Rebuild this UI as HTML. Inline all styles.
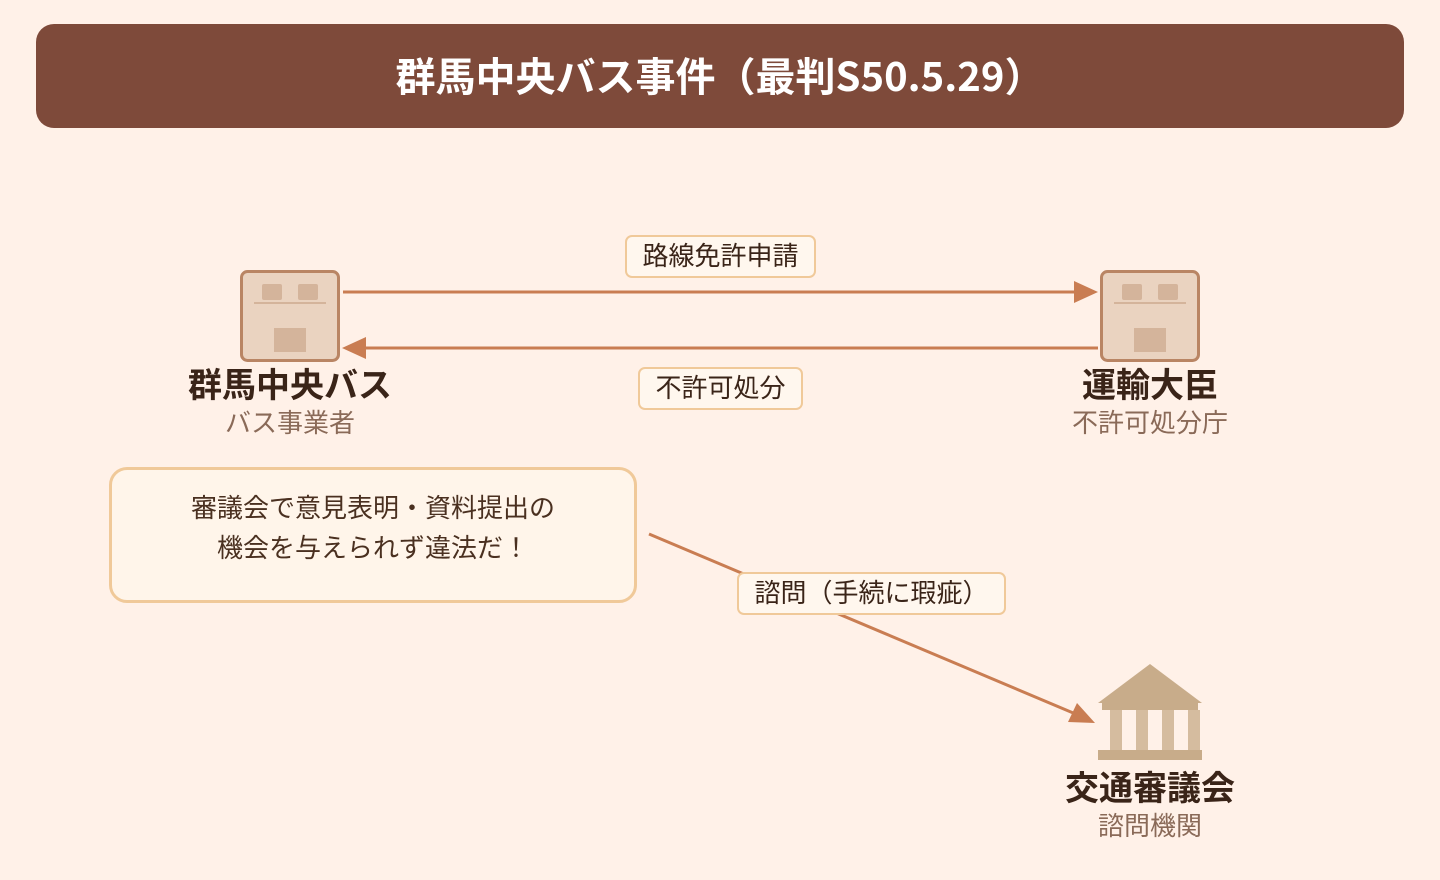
<!DOCTYPE html>
<html><head><meta charset="utf-8"><style>
body{margin:0;width:1440px;height:880px;background:#fff1e8;font-family:"Noto Sans CJK JP","Liberation Sans",sans-serif;position:relative;overflow:hidden}
.t{position:absolute;white-space:nowrap;text-align:center}
</style></head><body>
<div style="position:absolute;left:36px;top:24px;width:1368px;height:104px;background:#7e4a3a;border-radius:18px"></div>
<div class="t" style="left:36px;width:1368px;top:48px;font-size:40px;font-weight:bold;color:#fff;line-height:52px">群馬中央バス事件（最判S50.5.29）</div>
<svg width="1440" height="880" style="position:absolute;left:0;top:0">
<g>
<rect x="241.5" y="271.5" width="97" height="89" rx="6" fill="#ead3c0" stroke="#b98564" stroke-width="3"/>
<rect x="262" y="284" width="20" height="16" rx="2" fill="#d4b49b"/><rect x="298" y="284" width="20" height="16" rx="2" fill="#d4b49b"/>
<rect x="254" y="302" width="72" height="2" fill="#d4b49b"/><rect x="274" y="328" width="32" height="24" fill="#d4b49b"/>
</g>
<g transform="translate(860,0)">
<rect x="241.5" y="271.5" width="97" height="89" rx="6" fill="#ead3c0" stroke="#b98564" stroke-width="3"/>
<rect x="262" y="284" width="20" height="16" rx="2" fill="#d4b49b"/><rect x="298" y="284" width="20" height="16" rx="2" fill="#d4b49b"/>
<rect x="254" y="302" width="72" height="2" fill="#d4b49b"/><rect x="274" y="328" width="32" height="24" fill="#d4b49b"/>
</g>
<line x1="343" y1="292" x2="1078" y2="292" stroke="#c97d52" stroke-width="3"/>
<polygon points="1098,292 1074,281 1074,303" fill="#c97d52"/>
<line x1="1098" y1="348" x2="364" y2="348" stroke="#c97d52" stroke-width="3"/>
<polygon points="342,348 366,337 366,359" fill="#c97d52"/>
<line x1="649" y1="534" x2="1078" y2="715" stroke="#c97d52" stroke-width="3"/>
<polygon points="1095,723 1068,722 1077,703" fill="#c97d52"/>
<polygon points="1150,664 1098,703 1202,703" fill="#c8ac8a"/>
<rect x="1102" y="703" width="96" height="7" fill="#c8ac8a"/>
<rect x="1110" y="710" width="12" height="40" fill="#d5bc9f"/><rect x="1136" y="710" width="12" height="40" fill="#d5bc9f"/>
<rect x="1162" y="710" width="12" height="40" fill="#d5bc9f"/><rect x="1188" y="710" width="12" height="40" fill="#d5bc9f"/>
<rect x="1098" y="750" width="104" height="10" fill="#c8ac8a"/>
</svg>
<div style="position:absolute;left:625px;top:235px;width:187px;height:39px;background:#fff7ee;border:2px solid #f0c999;border-radius:7px"></div>
<div class="t" style="left:625px;width:191px;top:238px;font-size:26px;color:#3a2418;line-height:34px">路線免許申請</div>
<div style="position:absolute;left:638px;top:367px;width:161px;height:39px;background:#fff7ee;border:2px solid #f0c999;border-radius:7px"></div>
<div class="t" style="left:638px;width:165px;top:370px;font-size:26px;color:#3a2418;line-height:34px">不許可処分</div>
<div style="position:absolute;left:737px;top:572px;width:265px;height:39px;background:#fff7ee;border:2px solid #f0c999;border-radius:7px"></div>
<div class="t" style="left:737px;width:269px;top:575px;font-size:26px;color:#3a2418;line-height:34px">諮問（手続に瑕疵）</div>
<div style="position:absolute;left:109px;top:467px;width:522px;height:130px;background:#fff5ea;border:3px solid #f0c999;border-radius:18px"></div>
<div class="t" style="left:109px;width:528px;top:487px;font-size:26px;color:#4a3020;line-height:40px">審議会で意見表明・資料提出の<br>機会を与えられず違法だ！</div>
<div class="t" style="left:140px;width:300px;top:362px;font-size:34px;font-weight:bold;color:#3a2418;line-height:42px">群馬中央バス</div>
<div class="t" style="left:140px;width:300px;top:405px;font-size:26px;color:#8a6a58;line-height:34px">バス事業者</div>
<div class="t" style="left:1000px;width:300px;top:362px;font-size:34px;font-weight:bold;color:#3a2418;line-height:42px">運輸大臣</div>
<div class="t" style="left:1000px;width:300px;top:405px;font-size:26px;color:#8a6a58;line-height:34px">不許可処分庁</div>
<div class="t" style="left:1000px;width:300px;top:765px;font-size:34px;font-weight:bold;color:#3a2418;line-height:42px">交通審議会</div>
<div class="t" style="left:1000px;width:300px;top:808px;font-size:26px;color:#8a6a58;line-height:34px">諮問機関</div>
</body></html>
